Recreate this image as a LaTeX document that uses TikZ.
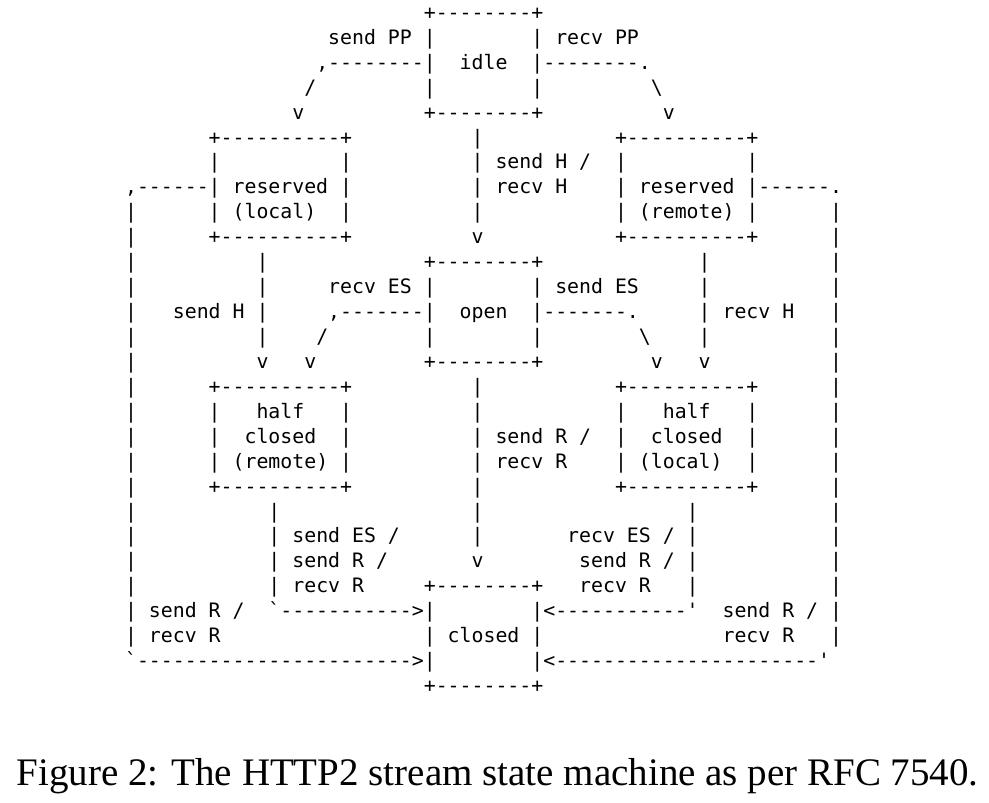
\documentclass[tikz,border=0pt]{standalone}
\usepackage{fontspec}
\setmainfont{Liberation Serif}
\setmonofont{DejaVu Sans Mono}
\def\defl#1{\expandafter\gdef\csname asc#1\endcsname}
\begingroup
\obeyspaces\gdef {\ }%
\defl{1}{                                +--------+}%
\defl{2}{                        send PP |        | recv PP}%
\defl{3}{                       ,--------|  idle  |--------.}%
\defl{4}{                      /         |        |         \textbackslash}%
\defl{5}{                     v          +--------+          v}%
\defl{6}{              +----------+          |           +----------+}%
\defl{7}{              |          |          | send H /  |          |}%
\defl{8}{       ,------| reserved |          | recv H    | reserved |------.}%
\defl{9}{       |      | (local)  |          |           | (remote) |      |}%
\defl{10}{       |      +----------+          v           +----------+      |}%
\defl{11}{       |          |             +--------+             |          |}%
\defl{12}{       |          |     recv ES |        | send ES     |          |}%
\defl{13}{       |   send H |     ,-------|  open  |-------.     | recv H   |}%
\defl{14}{       |          |    /        |        |        \textbackslash    |          |}%
\defl{15}{       |          v   v         +--------+         v   v          |}%
\defl{16}{       |      +----------+          |           +----------+      |}%
\defl{17}{       |      |   half   |          |           |   half   |      |}%
\defl{18}{       |      |  closed  |          | send R /  |  closed  |      |}%
\defl{19}{       |      | (remote) |          | recv R    | (local)  |      |}%
\defl{20}{       |      +----------+          |           +----------+      |}%
\defl{21}{       |           |                |                 |           |}%
\defl{22}{       |           | send ES /      |       recv ES / |           |}%
\defl{23}{       |           | send R /       v        send R / |           |}%
\defl{24}{       |           | recv R     +--------+   recv R   |           |}%
\defl{25}{       | send R /  `----------->|        |<-----------'  send R / |}%
\defl{26}{       | recv R                 | closed |               recv R   |}%
\defl{27}{       `----------------------->|        |<----------------------'}%
\defl{28}{                                +--------+}%
\endgroup
\tikzset{
  asciiline/.style={anchor=base west, inner sep=0pt, outer sep=0pt,
    font=\ttfamily\fontsize{19.85pt}{25pt}\selectfont},
  captiontext/.style={anchor=base west, inner sep=0pt, outer sep=0pt,
    font=\fontsize{39pt}{44pt}\selectfont}
}
\begin{document}
\begin{tikzpicture}[x=1pt,y=1pt]
\useasboundingbox (0,0) rectangle (989,-803);
\foreach \n in {1,...,28}{
  \node[asciiline] (l\n) at (41.4,{-(19.4+(\n-1)*24.93)}) {\csname asc\n\endcsname};
}
\node[captiontext] (caption) at (16.7,-785) {Figure 2: The HTTP2 stream state machine as per RFC 7540.};
\end{tikzpicture}
\end{document}
